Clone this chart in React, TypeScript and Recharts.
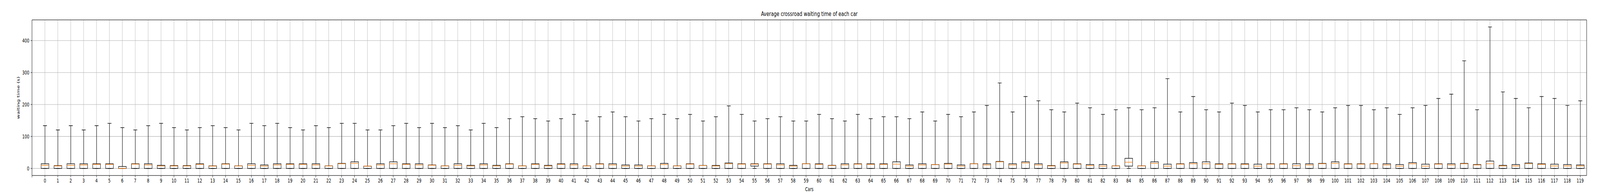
import React from 'react';
import { ComposedChart, Bar, XAxis, YAxis, CartesianGrid, ReferenceLine, Label } from 'recharts';

// car ids shown under each box
const carLabels = Array.from({ length: 120 }, (_, i) => String(i));

// upper whisker end (s)
const whiskerHigh = [
  133.7, 120.4, 133.7, 120.4, 133.7, 141, 127.7, 120.4, 133.7, 141,
  127.7, 120.4, 127.7, 133.7, 127.7, 120.4, 141, 133.7, 141, 127.7,
  120.4, 133.7, 127.7, 141, 141, 120.4, 120.4, 133.7, 141, 127.7,
  141, 127.7, 133.7, 120.4, 141, 127.7, 155.6, 161.7, 155.6, 148.3,
  155.6, 169, 148.3, 161.7, 176.7, 161.7, 148.3, 155.6, 169, 155.6,
  169, 148.3, 161.7, 195.7, 169, 148.3, 155.6, 161.7, 148.3, 148.3,
  169, 155.6, 148.3, 169, 155.6, 161.7, 161.7, 155.6, 176.7, 148.3,
  169, 161.7, 176.7, 197, 267.5, 176.7, 224.9, 211.6, 183.6, 176.7,
  204.3, 189.7, 169, 183.6, 189.7, 183.6, 189.7, 280.9, 176.7, 224.9,
  183.6, 176.7, 204.3, 197, 176.7, 183.6, 183.6, 189.7, 183.6, 176.7,
  189.7, 197, 197, 183.6, 189.7, 169, 189.7, 197, 218.8, 232.2,
  336.8, 183.6, 442.6, 239.5, 218.8, 189.7, 224.9, 218.8, 197, 211.6,
];

// third quartile (box top)
const q3 = [
  14.6, 8.9, 14.6, 14.6, 14.6, 14.6, 6.1, 14.6, 14.6, 9.7,
  8.9, 8.9, 14.6, 8.1, 14.6, 8.1, 14.6, 10.9, 14.6, 14.6,
  14.6, 14.6, 8.1, 15.8, 20.7, 7.3, 14.6, 20.7, 14.6, 14.6,
  10.9, 8.1, 14.6, 9.7, 14.6, 9.7, 14.6, 8.1, 14.6, 9.7,
  14.6, 14.6, 8.1, 14.6, 14.6, 10.9, 10.9, 8.1, 15.8, 8.1,
  14.6, 9.3, 9.3, 17, 14.6, 14.6, 14.6, 14.6, 9.7, 15,
  14.6, 9.7, 14.6, 14.6, 14.6, 14.6, 20.7, 10.9, 14.6, 12.2,
  15.8, 10.9, 15, 14.6, 21.9, 14.6, 20.7, 14.6, 8.9, 20.7,
  14.6, 12.2, 12.2, 8.1, 31.6, 8.1, 20.7, 13.4, 14.6, 18.2,
  20.7, 14.6, 14.6, 14.6, 13.4, 14.6, 14.6, 14.6, 14.6, 15.8,
  20.7, 14.6, 14.6, 15, 14.6, 12.2, 18.2, 13.4, 14.6, 14.6,
  15.8, 12.2, 23.1, 9.7, 12.2, 17, 14.6, 13.4, 12.2, 10.9,
];

// medians
const medians = [
  9.7, 7.7, 9.7, 10.9, 12.6, 12.6, 0, 13.4, 10.9, 7.7,
  7.7, 7.7, 12.6, 7.3, 13.4, 7.7, 9.7, 7.3, 10.9, 12.6,
  12.6, 10.9, 7.7, 14.6, 15.8, 7.3, 10.9, 14.6, 12.6, 10.9,
  10.1, 7.7, 9.7, 7.7, 10.9, 7.7, 13.4, 7.7, 12.6, 7.7,
  12.6, 10.9, 7.7, 13.4, 10.9, 7.3, 7.3, 7.7, 12.2, 7.7,
  13.4, 8.9, 7.7, 14.6, 13.4, 13.4, 13.4, 10.9, 7.3, 14.6,
  12.6, 8.9, 10.9, 13.4, 12.6, 12.6, 13.4, 7.3, 10.9, 12.2,
  13.4, 7.3, 14.6, 10.9, 20.7, 10.9, 17, 10.9, 7.7, 17,
  13.4, 8.9, 7.3, 7.7, 19.5, 7.7, 15.8, 7.3, 13.4, 14.6,
  14.6, 12.6, 13.4, 12.6, 7.3, 13.4, 13.4, 8.5, 10.9, 14.6,
  15.8, 13.4, 13.4, 14.6, 10.9, 7.3, 14.6, 7.3, 13.4, 10.9,
  14.6, 10.9, 14.6, 7.7, 7.7, 14.6, 12.6, 7.7, 7.7, 7.7,
];

// first quartile (box bottom)
const q1 = [
  0, 0, 0, 0, 0, 0, 0, 0, 0, 0,
  0, 0, 0, 0, 0, 0, 0, 0, 0, 0,
  0, 0, 0, 0, 0, 0, 0, 0, 0, 0,
  0, 0, 0, 0, 0, 0, 0, 0, 0, 0,
  0, 0, 0, 0, 0, 0, 0, 0, 0, 0,
  0, 0, 0, 0, 0, 7.3, 0, 0, 0, 0,
  0, 0, 0, 0, 0, 0, 0, 0, 0, 0,
  0, 0, 0, 0, 0, 0, 0, 0, 0, 0,
  0, 0, 0, 0, 7.3, 0, 0, 0, 0, 0,
  0, 0, 0, 0, 0, 0, 0, 0, 0, 0,
  0, 0, 0, 0, 0, 0, 0, 0, 0, 0,
  0, 0, 0, 0, 0, 0, 0, 0, 0, 0,
];

// lower whisker end
const whiskerLow = [
  0, 0, 0, 0, 0, 0, 0, 0, 0, 0,
  0, 0, 0, 0, 0, 0, 0, 0, 0, 0,
  0, 0, 0, 0, 0, 0, 0, 0, 0, 0,
  0, 0, 0, 0, 0, 0, 0, 0, 0, 0,
  0, 0, 0, 0, 0, 0, 0, 0, 0, 0,
  0, 0, 0, 0, 0, 0, 0, 0, 0, 0,
  0, 0, 0, 0, 0, 0, 0, 0, 0, 0,
  0, 0, 0, 0, 0, 0, 0, 0, 0, 0,
  0, 0, 0, 0, 0, 0, 0, 0, 0, 0,
  0, 0, 0, 0, 0, 0, 0, 0, 0, 0,
  0, 0, 0, 0, 0, 0, 0, 0, 0, 0,
  0, 0, 0, 0, 0, 0, 0, 0, 0, 0,
];

const yTicks = [0, 100, 200, 300, 400];
const yDomain: [number, number] = [-22.1, 464.7];
const xDomain: [number, number] = [0, 120.5];

const data = carLabels.map((car, i) => ({
  pos: i + 1,
  car,
  range: [whiskerLow[i], whiskerHigh[i]],
  lo: whiskerLow[i],
  hi: whiskerHigh[i],
  q1: q1[i],
  med: medians[i],
  q3: q3[i],
}));
const xTicks = [0, ...data.map((d) => d.pos)];

const W = 6000;
const H = 500;
const font = '"DejaVu Sans", sans-serif';
const lw = 1.4;

// whiskers, caps, box and median for one car; y values come from the bar's own scale
function BoxShape(props: any) {
  const { x, y, width, height, payload } = props;
  const top = Math.min(y, y + height);
  const bottom = Math.max(y, y + height);
  const { lo, hi } = payload;
  const py = (v: number) => bottom - ((v - lo) / (hi - lo)) * (bottom - top);
  const cx = x + width / 2;
  const cap = width / 4;
  return (
    <g>
      <line x1={cx} x2={cx} y1={py(payload.q3)} y2={py(hi)} stroke="#000" strokeWidth={lw} />
      <line x1={cx} x2={cx} y1={py(payload.q1)} y2={py(lo)} stroke="#000" strokeWidth={lw} />
      <line x1={cx - cap} x2={cx + cap} y1={py(hi)} y2={py(hi)} stroke="#000" strokeWidth={lw} />
      <line x1={cx - cap} x2={cx + cap} y1={py(lo)} y2={py(lo)} stroke="#000" strokeWidth={lw} />
      <rect x={x} y={py(payload.q3)} width={width} height={py(payload.q1) - py(payload.q3)}
        fill="none" stroke="#000" strokeWidth={lw} />
      <line x1={x} x2={x + width} y1={py(payload.med)} y2={py(payload.med)} stroke="#ff7f0e" strokeWidth={lw} />
    </g>
  );
}

export default function App() {
  // the browser window may be narrower than the 6000px figure: squeeze it horizontally to fit
  const sx = Math.min(1, (typeof window !== 'undefined' ? window.innerWidth : W) / W);
  return (
    <div style={{ position: 'absolute', left: 0, top: 0, width: W * sx, height: H, overflow: 'hidden', background: '#fff' }}>
      <div style={{
        position: 'absolute', left: 0, top: 0, width: W, height: H, fontFamily: font,
        transform: `scaleX(${sx})`, transformOrigin: '0 0',
      }}>
        <div style={{
          position: 'absolute', left: 1000, width: 4070, top: 27, textAlign: 'center',
          fontSize: 16.7, lineHeight: '16.7px', color: '#000', whiteSpace: 'nowrap',
        }}>
          Average crossroad waiting time of each car
        </div>
        <ComposedChart width={W} height={H} data={data}
          margin={{ top: 51, right: 50, bottom: 0, left: 0 }}>
          <CartesianGrid stroke="#b0b0b0" strokeWidth={1.1} />
          <XAxis dataKey="pos" type="number" domain={xDomain} allowDataOverflow ticks={xTicks} interval={0}
            tickFormatter={(v: number) => (v === 0 ? '' : carLabels[v - 1])}
            height={50} tickSize={4.9} tickMargin={3}
            tick={{ fill: '#000', fontSize: 13.9, fontFamily: font }}
            axisLine={{ stroke: '#000', strokeWidth: 1.1 }} tickLine={{ stroke: '#000', strokeWidth: 1.1 }}>
            <Label value="Cars" position="insideBottom" offset={10}
              style={{ fill: '#000', fontSize: 13.9, fontFamily: font }} />
          </XAxis>
          <YAxis type="number" domain={yDomain} allowDataOverflow ticks={yTicks} interval={0}
            width={120} tickSize={4.9} tickMargin={5}
            tick={{ fill: '#000', fontSize: 13.9, fontFamily: font }}
            axisLine={{ stroke: '#000', strokeWidth: 1.1 }} tickLine={{ stroke: '#000', strokeWidth: 1.1 }}>
            <Label value="waiting time (s)" angle={-90} position="center" dx={8}
              style={{ fill: '#000', fontSize: 13.9, fontFamily: font, textAnchor: 'middle' }} />
          </YAxis>
          <ReferenceLine y={yDomain[1]} stroke="#000" strokeWidth={1.1} ifOverflow="visible" />
          <ReferenceLine x={xDomain[1]} stroke="#000" strokeWidth={1.1} ifOverflow="visible" />
          <Bar dataKey="range" barSize={29} isAnimationActive={false} shape={BoxShape} />
        </ComposedChart>
      </div>
    </div>
  );
}
